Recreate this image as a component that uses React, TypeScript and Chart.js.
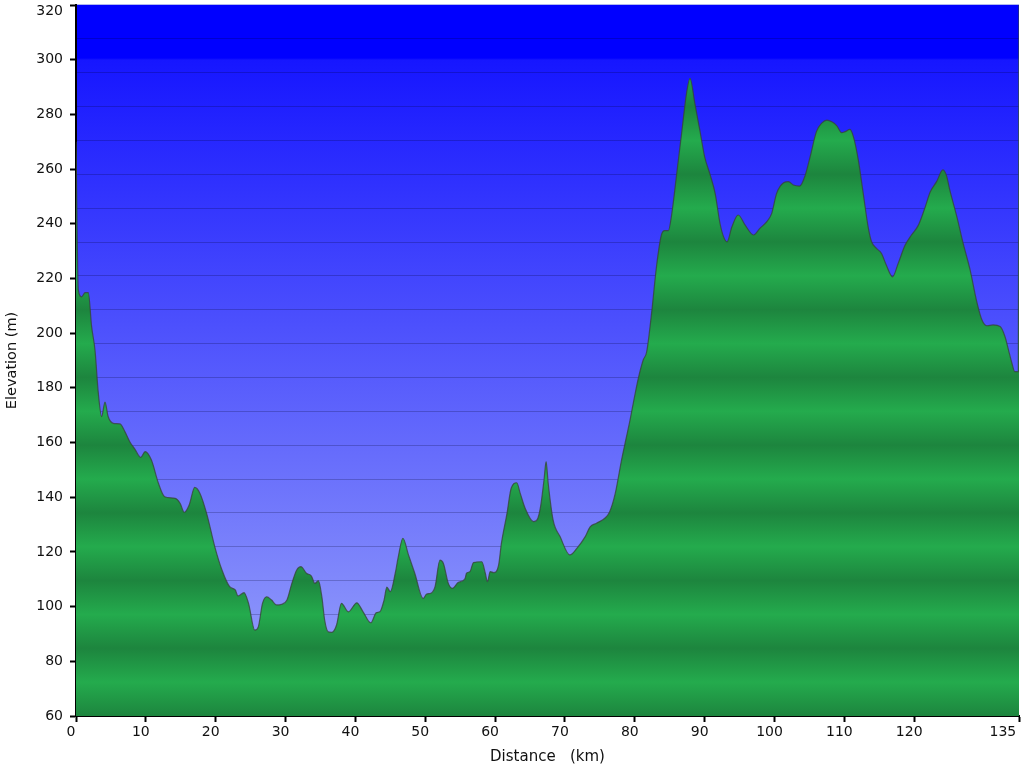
import React, { useEffect, useRef } from 'react';
import { Chart, registerables } from 'chart.js';

Chart.register(...registerables);

// ---- data ----
const distanceKm = [
  0, 0.33, 0.8, 1.3, 1.76, 2.24, 2.72, 3.2, 3.67, 4.15, 4.6, 5.35, 6.3, 7.0, 7.7, 8.45, 9.26, 9.9, 10.8, 11.8,
  12.7, 14.2, 14.9, 15.5, 16.2, 17.0, 17.75, 18.7, 19.9, 20.9, 22.0, 22.8, 23.2, 24.05, 24.7, 25.6, 26.1, 26.7,
  27.3, 28.0, 28.7, 29.4, 30.2, 30.9, 31.6, 32.2, 33.0, 33.7, 34.2, 34.7, 35.2, 35.6, 36.1, 36.6, 37.3, 38.0,
  39.0, 40.2, 41.1, 42.2, 43.0, 43.5, 44.1, 44.5, 45.0, 45.7, 46.1, 46.8, 47.6, 48.5, 49.7, 50.2, 50.8, 51.4,
  52.1, 52.6, 53.3, 53.9, 54.7, 55.7, 55.9, 56.4, 56.9, 58.1, 58.6, 58.9, 59.3, 59.8, 60.5, 60.9, 61.7, 62.3,
  63.1, 63.6, 64.3, 65.5, 66.0, 66.5, 67.0, 67.3, 67.6, 68.3, 69.3, 70.7, 71.7, 72.9, 73.6, 74.5, 75.7, 76.4,
  77.2, 78.1, 78.7, 79.3, 79.9, 80.5, 81.2, 81.7, 82.4, 83.1, 83.8, 84.3, 84.8, 85.3, 86.0, 86.7, 87.4, 87.9,
  88.6, 89.3, 90.0, 90.8, 91.5, 92.2, 92.7, 93.2, 93.9, 94.8, 95.8, 97.0, 97.9, 98.9, 99.6, 100.3, 101.3,
  102.0, 102.7, 103.6, 104.4, 105.1, 106.0, 106.8, 107.5, 108.2, 108.9, 109.6, 110.1, 110.8, 111.3, 112.0,
  112.7, 113.4, 113.9, 114.6, 115.3, 116.0, 116.9, 117.7, 118.7, 119.6, 120.6, 121.5, 122.3, 123.2, 124.1,
  124.6, 125.1, 126.1, 127.0, 128.0, 128.9, 129.7, 130.4, 131.3, 132.3, 133.0, 133.5, 134.0, 134.4, 134.9, 135,
];

const elevationM = [
  270, 215.8, 213.3, 214.8, 214.8, 202.4, 193.8, 178, 169.5, 174.8, 169.5, 167, 166.8, 164, 160.3, 157.5, 154.6,
  156.7, 153.6, 145.1, 140.2, 139.6, 137.8, 134.5, 137.2, 143.6, 141.4, 134.1, 121.6, 113.4, 107.3, 106.1,
  103.9, 105.1, 101.2, 91.4, 92.6, 101.2, 103.6, 102.4, 100.6, 100.8, 102.4, 108.5, 113.4, 114.6, 112.2, 111.2,
  108.5, 109.5, 103.6, 95.1, 90.8, 90.6, 93.3, 101.2, 98.1, 101.4, 98.1, 94.1, 97.8, 98.1, 102.4, 107.1, 105.5,
  112.2, 117.7, 125.0, 118.9, 112.2, 103.0, 104.6, 104.9, 107.3, 117, 115.8, 108.5, 106.7, 108.8, 110.3, 112.2,
  112.8, 116.1, 116.4, 112.2, 109.1, 112.8, 112.4, 115.2, 123.1, 134.1, 143.3, 145.3, 141.4, 136.0, 131.1,
  131.7, 136.5, 146.3, 153.0, 145.1, 131.7, 125.6, 118.9, 121.3, 125.6, 129.2, 130.5, 132.3, 134.7, 141.4,
  153.6, 160.9, 168, 176, 183.5, 190.2, 193.2, 207.3, 224.3, 235.9, 237.5, 237.5, 243.8, 258.4, 273.1, 287.7,
  293.2, 284, 274.3, 264.5, 257.8, 251.1, 240.1, 235.3, 233.4, 238.9, 243.2, 239.5, 235.9, 238.3, 240.8, 243.8,
  251.1, 255.0, 255.4, 254.2, 253.8, 257.8, 264.5, 273.7, 276.9, 277.9, 277.3, 275.9, 273.3, 273.7, 274.5,
  271.8, 263.3, 251.1, 238.9, 233.4, 231.0, 229.2, 224.9, 220.6, 225.5, 232.2, 235.9, 239.5, 245.6, 251.7,
  255.4, 259.7, 257.8, 252.3, 242.6, 232.9, 223.1, 212.1, 204.8, 202.7, 203.0, 202.4, 198.7, 193.8, 188.9,
  185.9, 185.9, 330,
];

const xTickValues = [0, 10, 20, 30, 40, 50, 60, 70, 80, 90, 100, 110, 120, 135];
const yTickValues = [60, 80, 100, 120, 140, 160, 180, 200, 220, 240, 260, 280, 300, 320];
const xTitle = 'Distance   (km)';
const yTitle = 'Elevation (m)';

// ---- style ----
const BANDS = 21;
const GREEN_LIGHT = 'rgb(36,171,77)';
const GREEN_DARK = 'rgb(29,133,62)';
const FONT = 'DejaVu Sans';

function makeGreen(ctx: CanvasRenderingContext2D, area: any) {
  const g = ctx.createLinearGradient(0, area.top, 0, area.bottom);
  for (let k = 0; k <= BANDS; k++) {
    g.addColorStop(k / BANDS, k % 2 === 0 ? GREEN_LIGHT : GREEN_DARK);
  }
  return g;
}

const backdrop = {
  id: 'backdrop',
  beforeDraw(chart: any) {
    const { ctx, chartArea: a } = chart;
    if (!a) return;
    const h = a.bottom - a.top;
    const g = ctx.createLinearGradient(0, a.top, 0, a.bottom);
    g.addColorStop(0, 'rgb(0,0,255)');
    g.addColorStop(53 / h, 'rgb(0,0,255)');
    g.addColorStop(55 / h, 'rgb(22,22,255)');
    g.addColorStop(1, 'rgb(156,166,250)');
    ctx.save();
    ctx.fillStyle = g;
    ctx.fillRect(a.left, a.top, a.right - a.left, h);
    ctx.fillStyle = 'rgb(176,182,240)';
    ctx.fillRect(a.left, a.top - 1, a.right - a.left, 1);
    ctx.restore();
  },
};

export default function App() {
  const ref = useRef<HTMLCanvasElement>(null);

  useEffect(() => {
    document.body.style.margin = '0';
    const canvas = ref.current!;
    const points = distanceKm.map((d, i) => ({ x: d, y: elevationM[i] }));
    const yMax = yTickValues[yTickValues.length - 1];
    const xMax = xTickValues[xTickValues.length - 1];

    const chart = new Chart(canvas, {
      type: 'line',
      data: {
        datasets: [
          {
            data: points,
            borderColor: 'rgba(55,65,55,0.75)',
            borderWidth: 1.2,
            pointRadius: 0,
            cubicInterpolationMode: 'monotone',
            fill: 'start',
            backgroundColor: (c: any) => {
              const a = c.chart.chartArea;
              if (!a) return GREEN_LIGHT;
              return makeGreen(c.chart.ctx, a);
            },
          },
        ],
      },
      plugins: [backdrop],
      options: {
        responsive: false,
        animation: false,
        events: [],
        layout: { padding: { left: 0, right: 5, top: 5, bottom: 0 } },
        plugins: { legend: { display: false }, tooltip: { enabled: false } },
        scales: {
          x: {
            type: 'linear',
            min: 0,
            max: xMax,
            afterFit: (s: any) => {
              s.height = 52;
              s.paddingLeft = 0;
              s.paddingRight = 0;
            },
            afterBuildTicks: (s: any) => {
              s.ticks = xTickValues.map((v) => ({ value: v }));
            },
            border: { display: true, color: '#000', width: 2 },
            grid: { drawOnChartArea: false, tickLength: 6, tickColor: '#000', tickWidth: 2 },
            ticks: {
              color: '#111',
              font: { family: FONT, size: 14 },
              padding: 2,
              labelOffset: -5,
              maxRotation: 0,
              autoSkip: false,
              callback: (v: any) => (v === xMax ? String(v) + '     ' : String(v)),
            },
            title: {
              display: true,
              text: xTitle,
              color: '#111',
              font: { family: FONT, size: 15 },
              padding: { top: 0, bottom: 2 },
            },
          },
          y: {
            type: 'linear',
            min: 60,
            max: yMax,
            afterFit: (s: any) => {
              s.width = 76;
              s.paddingTop = 0;
              s.paddingBottom = 0;
            },
            afterBuildTicks: (s: any) => {
              s.ticks = yTickValues.map((v) => ({ value: v }));
            },
            border: { display: true, color: '#000', width: 2 },
            grid: { drawOnChartArea: false, tickLength: 6, tickColor: '#000', tickWidth: 2 },
            ticks: {
              color: '#111',
              font: { family: FONT, size: 14, lineHeight: 0.9 },
              padding: 7,
              autoSkip: false,
              callback: (v: any) => (v === yMax ? ['', String(v)] : String(v)),
            },
            title: {
              display: true,
              text: yTitle,
              color: '#111',
              font: { family: FONT, size: 14.5 },
              padding: { top: 4, bottom: 0 },
            },
          },
          bands: {
            type: 'linear',
            position: 'right',
            min: 0,
            max: BANDS,
            z: 1,
            afterFit: (s: any) => {
              s.width = 0;
              s.paddingTop = 0;
              s.paddingBottom = 0;
            },
            border: { display: false },
            ticks: { display: false, stepSize: 1 },
            grid: {
              drawTicks: false,
              color: (c: any) =>
                c.tick && (c.tick.value === 0 || c.tick.value === BANDS) ? 'rgba(0,0,0,0)' : 'rgba(0,0,40,0.22)',
              lineWidth: 1,
            },
          },
        },
      },
    } as any);

    return () => chart.destroy();
  }, []);

  return (
    <div style={{ width: 1024, height: 768 }}>
      <canvas ref={ref} width={1024} height={768} style={{ display: 'block' }} />
    </div>
  );
}
